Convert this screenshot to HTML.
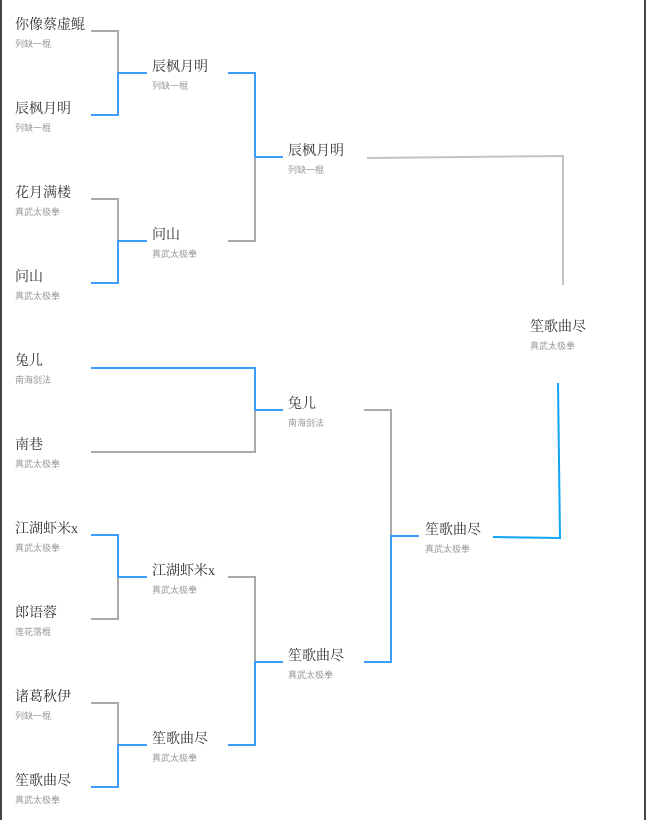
<!DOCTYPE html>
<html><head><meta charset="utf-8"><style>
html,body{margin:0;padding:0;background:#fff;}
#c{position:relative;width:646px;height:820px;overflow:hidden;background:#fff;}
.n{position:absolute;font-family:"Liberation Serif","Noto Serif CJK SC",serif;font-size:14px;color:#333;line-height:16px;white-space:nowrap;margin-top:3px;}
.s{position:absolute;font-family:"Liberation Sans","Noto Sans CJK SC",sans-serif;font-size:9px;color:#999;line-height:10px;white-space:nowrap;margin-top:1px;}
svg{position:absolute;left:0;top:0;}
</style></head><body><div id="c">
<svg width="646" height="820" fill="none" stroke-width="2">
<line x1="1" y1="0" x2="1" y2="820" stroke="#444" stroke-width="2"/>
<line x1="645" y1="0" x2="645" y2="820" stroke="#444" stroke-width="2"/>
<g stroke="#aaa">
<polyline points="91,31 118,31 118,73"/>
<polyline points="91,199 118,199 118,241"/>
<polyline points="91,452 255,452 255,410"/>
<polyline points="91,619 118,619 118,577"/>
<polyline points="91,703 118,703 118,745"/>
<polyline points="228,241 255,241 255,157"/>
<polyline points="228,577 255,577 255,662"/>
<polyline points="364,410 391,410 391,536"/>
<polyline points="367,158 563,156 563,285" stroke="#c4c4c4"/>
</g>
<g stroke="#3d9dfb">
<polyline points="91,115 118,115 118,73 147,73"/>
<polyline points="91,283 118,283 118,241 147,241"/>
<polyline points="91,368 255,368 255,410 283,410"/>
<polyline points="91,535 118,535 118,577 147,577"/>
<polyline points="91,787 118,787 118,745 147,745"/>
<polyline points="228,73 255,73 255,157 283,157"/>
<polyline points="228,745 255,745 255,662 283,662"/>
<polyline points="364,662 391,662 391,536 419,536"/>
<polyline points="493,537 560,538 558,383" stroke="#10a5f5"/>
</g>
</svg>
<div class="n" style="left:15px;top:15px">你像蔡虚鲲</div><div class="s" style="left:15px;top:38px">列缺一棍</div>
<div class="n" style="left:15px;top:99px">辰枫月明</div><div class="s" style="left:15px;top:122px">列缺一棍</div>
<div class="n" style="left:15px;top:183px">花月满楼</div><div class="s" style="left:15px;top:206px">真武太极拳</div>
<div class="n" style="left:15px;top:267px">问山</div><div class="s" style="left:15px;top:290px">真武太极拳</div>
<div class="n" style="left:15px;top:351px">兔儿</div><div class="s" style="left:15px;top:374px">南海剑法</div>
<div class="n" style="left:15px;top:435px">南巷</div><div class="s" style="left:15px;top:458px">真武太极拳</div>
<div class="n" style="left:15px;top:519px">江湖虾米x</div><div class="s" style="left:15px;top:542px">真武太极拳</div>
<div class="n" style="left:15px;top:603px">郎语蓉</div><div class="s" style="left:15px;top:626px">莲花落棍</div>
<div class="n" style="left:15px;top:687px">诸葛秋伊</div><div class="s" style="left:15px;top:710px">列缺一棍</div>
<div class="n" style="left:15px;top:771px">笙歌曲尽</div><div class="s" style="left:15px;top:794px">真武太极拳</div>

<div class="n" style="left:152px;top:57px">辰枫月明</div><div class="s" style="left:152px;top:80px">列缺一棍</div>
<div class="n" style="left:152px;top:225px">问山</div><div class="s" style="left:152px;top:248px">真武太极拳</div>
<div class="n" style="left:152px;top:561px">江湖虾米x</div><div class="s" style="left:152px;top:584px">真武太极拳</div>
<div class="n" style="left:152px;top:729px">笙歌曲尽</div><div class="s" style="left:152px;top:752px">真武太极拳</div>

<div class="n" style="left:288px;top:141px">辰枫月明</div><div class="s" style="left:288px;top:164px">列缺一棍</div>
<div class="n" style="left:288px;top:394px">兔儿</div><div class="s" style="left:288px;top:417px">南海剑法</div>
<div class="n" style="left:288px;top:646px">笙歌曲尽</div><div class="s" style="left:288px;top:669px">真武太极拳</div>

<div class="n" style="left:425px;top:520px">笙歌曲尽</div><div class="s" style="left:425px;top:543px">真武太极拳</div>
<div class="n" style="left:530px;top:317px">笙歌曲尽</div><div class="s" style="left:530px;top:340px">真武太极拳</div>
</div></body></html>
